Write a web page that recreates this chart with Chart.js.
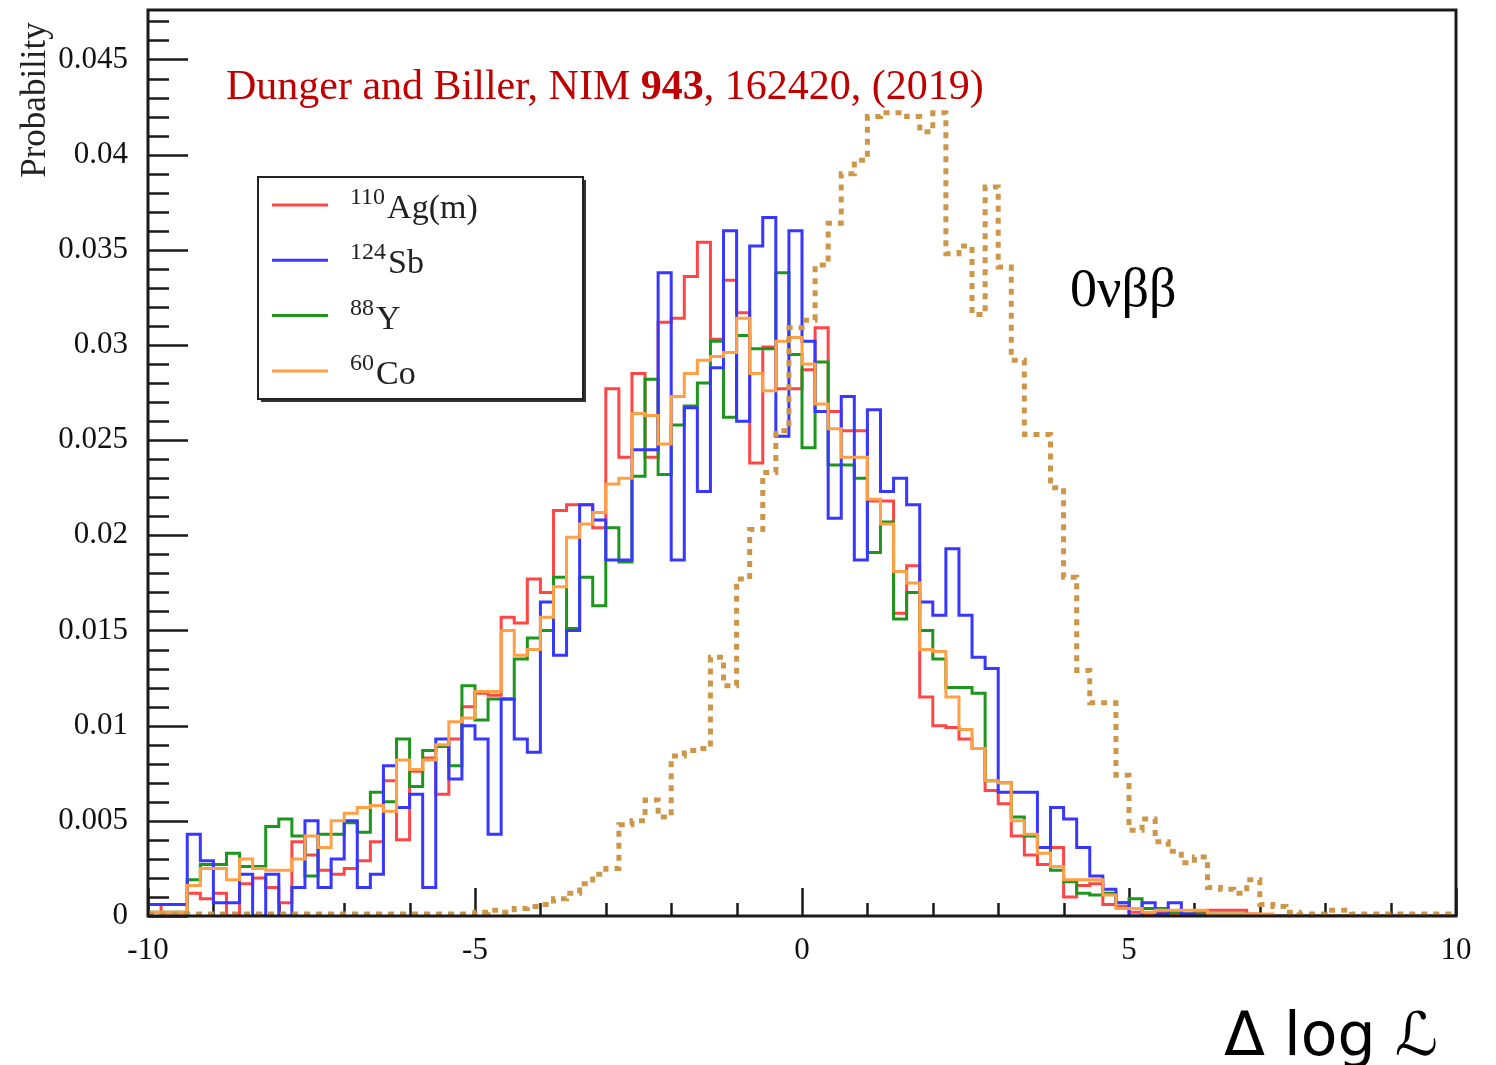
<!DOCTYPE html>
<html>
<head>
<meta charset="utf-8">
<script src="https://cdn.jsdelivr.net/npm/chart.js@4.4.1/dist/chart.umd.min.js"></script>
<style>
    body { margin: 0; background: #fff; }
    #wrap { width: 1496px; height: 1065px; }
</style>
</head>
<body>
<div id="wrap"><canvas id="hist" width="1496" height="1065"></canvas></div>
<script>
    "use strict";

    // Histogram binning: 100 bins of 0.2 between -10 and 10
    var binStart = -10;
    var binWidth = 0.2;

    // Bin contents (probability per bin)
    var agm = [
        0.0006, 0.0000, 0.0000, 0.0012, 0.0009, 0.0012, 0.0000, 0.0017, 0.0020, 0.0015,
        0.0007, 0.0039, 0.0032, 0.0024, 0.0022, 0.0025, 0.0029, 0.0039, 0.0071, 0.0040,
        0.0076, 0.0083, 0.0064, 0.0093, 0.0110, 0.0117, 0.0116, 0.0157, 0.0154, 0.0177,
        0.0170, 0.0213, 0.0216, 0.0216, 0.0204, 0.0277, 0.0241, 0.0285, 0.0241, 0.0312,
        0.0314, 0.0336, 0.0354, 0.0303, 0.0334, 0.0317, 0.0238, 0.0299, 0.0277, 0.0277,
        0.0287, 0.0309, 0.0265, 0.0255, 0.0255, 0.0218, 0.0218, 0.0159, 0.0184, 0.0115,
        0.0100, 0.0099, 0.0093, 0.0088, 0.0066, 0.0059, 0.0042, 0.0032, 0.0027, 0.0036,
        0.0010, 0.0016, 0.0017, 0.0006, 0.0005, 0.0002, 0.0001, 0.0002, 0.0001, 0.0001,
        0.0002, 0.0003, 0.0003, 0.0003, 0.0001, 0, 0, 0, 0, 0,
        0, 0, 0, 0, 0, 0, 0, 0, 0, 0
    ];
    var sb = [
        0.0006, 0.0006, 0.0006, 0.0043, 0.0029, 0.0007, 0.0007, 0.0022, 0.0000, 0.0022,
        0.0000, 0.0015, 0.0050, 0.0015, 0.0030, 0.0050, 0.0015, 0.0022, 0.0079, 0.0057,
        0.0064, 0.0015, 0.0093, 0.0072, 0.0100, 0.0093, 0.0043, 0.0114, 0.0093, 0.0086,
        0.0165, 0.0137, 0.0150, 0.0216, 0.0208, 0.0187, 0.0187, 0.0245, 0.0245, 0.0338,
        0.0187, 0.0267, 0.0223, 0.0288, 0.0360, 0.0260, 0.0352, 0.0367, 0.0252, 0.0360,
        0.0302, 0.0265, 0.0209, 0.0273, 0.0187, 0.0266, 0.0223, 0.0230, 0.0216, 0.0165,
        0.0158, 0.0193, 0.0158, 0.0136, 0.0130, 0.0065, 0.0065, 0.0065, 0.0036, 0.0057,
        0.0051, 0.0036, 0.0021, 0.0014, 0.0007, 0.0000, 0.0007, 0.0001, 0.0007, 0.0001,
        0, 0, 0, 0, 0, 0, 0, 0, 0, 0,
        0, 0, 0, 0, 0, 0, 0, 0, 0, 0
    ];
    var y88 = [
        0.0002, 0.0002, 0.0002, 0.0019, 0.0027, 0.0027, 0.0033, 0.0026, 0.0026, 0.0047,
        0.0051, 0.0042, 0.0021, 0.0043, 0.0043, 0.0049, 0.0044, 0.0065, 0.0060, 0.0093,
        0.0068, 0.0087, 0.0089, 0.0079, 0.0121, 0.0103, 0.0114, 0.0114, 0.0135, 0.0146,
        0.0150, 0.0178, 0.0151, 0.0178, 0.0163, 0.0204, 0.0186, 0.0231, 0.0282, 0.0232,
        0.0258, 0.0268, 0.0280, 0.0302, 0.0262, 0.0305, 0.0298, 0.0298, 0.0338, 0.0295,
        0.0246, 0.0291, 0.0237, 0.0237, 0.0230, 0.0191, 0.0207, 0.0156, 0.0170, 0.0150,
        0.0135, 0.0120, 0.0120, 0.0117, 0.0071, 0.0070, 0.0052, 0.0042, 0.0036, 0.0024,
        0.0018, 0.0012, 0.0011, 0.0012, 0.0007, 0.0009, 0.0004, 0.0004, 0.0002, 0.0001,
        0.0001, 0.0001, 0.0001, 0.0001, 0, 0, 0, 0, 0, 0,
        0, 0, 0, 0, 0, 0, 0, 0, 0, 0
    ];
    var co60 = [
        0.0002, 0.0002, 0.0002, 0.0016, 0.0025, 0.0025, 0.0019, 0.0030, 0.0025, 0.0024,
        0.0024, 0.0030, 0.0042, 0.0036, 0.0050, 0.0054, 0.0057, 0.0058, 0.0055, 0.0082,
        0.0077, 0.0082, 0.0090, 0.0102, 0.0104, 0.0118, 0.0118, 0.0150, 0.0137, 0.0140,
        0.0157, 0.0173, 0.0199, 0.0206, 0.0212, 0.0227, 0.0230, 0.0264, 0.0263, 0.0248,
        0.0273, 0.0285, 0.0292, 0.0294, 0.0296, 0.0314, 0.0285, 0.0276, 0.0302, 0.0304,
        0.0290, 0.0269, 0.0256, 0.0241, 0.0241, 0.0219, 0.0206, 0.0181, 0.0175, 0.0140,
        0.0139, 0.0115, 0.0098, 0.0088, 0.0071, 0.0070, 0.0050, 0.0043, 0.0033, 0.0026,
        0.0019, 0.0019, 0.0019, 0.0011, 0.0004, 0.0004, 0.0002, 0.0003, 0.0003, 0.0003,
        0.0003, 0.0001, 0.0001, 0.0001, 0.0001, 0.0001, 0, 0, 0, 0,
        0, 0, 0, 0, 0, 0, 0, 0, 0, 0
    ];
    var zeronu = [
        0.0001, 0.0001, 0.0001, 0.0001, 0.0001, 0.0001, 0.0001, 0.0001, 0.0001, 0.0001,
        0.0001, 0.0001, 0.0001, 0.0001, 0.0001, 0.0001, 0.0001, 0.0001, 0.0001, 0.0001,
        0.0001, 0.0001, 0.0001, 0.0001, 0.0001, 0.0002, 0.0003, 0.0002, 0.0004, 0.0005,
        0.0006, 0.0009, 0.0012, 0.0017, 0.0022, 0.0025, 0.0048, 0.0050, 0.0061, 0.0052,
        0.0084, 0.0087, 0.0088, 0.0136, 0.0121, 0.0177, 0.0203, 0.0233, 0.0255, 0.0309,
        0.0313, 0.0342, 0.0364, 0.0390, 0.0397, 0.0420, 0.0422, 0.0422, 0.0420, 0.0412,
        0.0422, 0.0348, 0.0352, 0.0316, 0.0383, 0.0341, 0.0292, 0.0253, 0.0253, 0.0225,
        0.0178, 0.0129, 0.0112, 0.0112, 0.0074, 0.0045, 0.0051, 0.0039, 0.0034, 0.0028,
        0.0031, 0.0015, 0.0014, 0.0012, 0.0019, 0.0006, 0.0005, 0.0002, 0.0001, 0.0001,
        0.0003, 0.0003, 0.0001, 0.0001, 0.0001, 0.0001, 0.0001, 0.0001, 0.0001, 0.0001
    ];

    // Axis tick labels
    var xTickValues = [-10, -5, 0, 5, 10];
    var xTickLabels = ["-10", "-5", "0", "5", "10"];
    var yTickValues = [0, 0.005, 0.01, 0.015, 0.02, 0.025, 0.03, 0.035, 0.04, 0.045];
    var yTickLabels = ["0", "0.005", "0.01", "0.015", "0.02", "0.025", "0.03", "0.035", "0.04", "0.045"];

    // Legend entries (mass number + element)
    var legendMass = ["110", "124", "88", "60"];
    var legendName = ["Ag(m)", "Sb", "Y", "Co"];

    var serif = "'Liberation Serif', 'DejaVu Serif', serif";

    // step points at the bin edges, last edge repeats the last bin
    function toSteps(vals) {
        var pts = vals.map(function (v, i) {
            return {x: binStart + i * binWidth, y: v};
        });
        pts.push({x: binStart + vals.length * binWidth, y: vals[vals.length - 1]});
        return pts;
    }

    function histo(label, vals, color, order) {
        return {
            label: label,
            data: toSteps(vals),
            borderColor: color,
            borderWidth: 3,
            stepped: "before",
            pointRadius: 0,
            fill: false,
            order: order
        };
    }

    var nubb = histo("0vbb", zeronu, "rgb(205,150,72)", 0);
    nubb.borderDash = [6, 6];
    nubb.borderWidth = 5;
    nubb.borderCapStyle = "butt";

    // no extra room for half labels at the axis ends
    function noPad(scale) {
        scale.paddingTop = 0;
        scale.paddingBottom = 0;
        scale.paddingLeft = 0;
        scale.paddingRight = 0;
    }

    // Frame, inner ticks, texts and legend
    var decor = {
        id: "decor",
        beforeDatasetsDraw: function (chart) {
            var ctx = chart.ctx, a = chart.chartArea;
            var xs = chart.scales.x, ys = chart.scales.y;
            ctx.save();
            ctx.strokeStyle = "#1a1a1a";
            ctx.lineWidth = 2.5;
            ctx.beginPath();
            for (var v = 0; v <= 47; v++) {
                var y = Math.round(ys.getPixelForValue(v / 1000)) + 0.5;
                var len = (v % 5 === 0) ? 40 : 21;
                ctx.moveTo(a.left, y);
                ctx.lineTo(a.left + len, y);
            }
            for (var t = -10; t <= 10; t++) {
                var x = Math.round(xs.getPixelForValue(t)) + 0.5;
                var tl = (t % 5 === 0) ? 28 : 13;
                ctx.moveTo(x, a.bottom);
                ctx.lineTo(x, a.bottom - tl);
            }
            ctx.stroke();
            ctx.restore();
        },
        afterDatasetsDraw: function (chart) {
            var ctx = chart.ctx, a = chart.chartArea;
            ctx.save();
            ctx.strokeStyle = "#1a1a1a";
            ctx.lineWidth = 3;
            ctx.strokeRect(a.left, a.top, a.right - a.left, a.bottom - a.top);
            ctx.restore();
        },
        afterDraw: function (chart) {
            var ctx = chart.ctx;
            ctx.save();

            // y title
            ctx.save();
            ctx.translate(45, 100);
            ctx.rotate(-Math.PI / 2);
            ctx.fillStyle = "#222";
            ctx.font = "35px " + serif;
            ctx.textAlign = "center";
            ctx.textBaseline = "alphabetic";
            ctx.fillText("Probability", 0, 0);
            ctx.restore();

            // reference line
            var tx = 226, ty = 99;
            ctx.fillStyle = "#c00000";
            ctx.textBaseline = "alphabetic";
            ctx.textAlign = "left";
            ctx.font = "42px " + serif;
            var p1 = "Dunger and Biller, NIM ";
            ctx.fillText(p1, tx, ty);
            tx += ctx.measureText(p1).width;
            ctx.font = "bold 42px " + serif;
            ctx.fillText("943", tx, ty);
            tx += ctx.measureText("943").width;
            ctx.font = "42px " + serif;
            ctx.fillText(", 162420, (2019)", tx, ty);

            // signal label
            ctx.fillStyle = "#000";
            ctx.font = "54px " + serif;
            ctx.fillText("0\u03bd\u03b2\u03b2", 1070, 306);

            // x title
            ctx.font = "60px 'DejaVu Sans', sans-serif";
            ctx.fillText("\u0394 log \u2112", 1224, 1055);

            // legend box with shadow
            var bx = 258, by = 177, bw = 325, bh = 222;
            ctx.fillStyle = "#333";
            ctx.fillRect(bx + 3, by + bh, bw, 3);
            ctx.fillRect(bx + bw, by + 3, 3, bh);
            ctx.fillStyle = "#fff";
            ctx.fillRect(bx, by, bw, bh);
            ctx.strokeStyle = "#222";
            ctx.lineWidth = 2;
            ctx.strokeRect(bx, by, bw, bh);

            var ds = chart.data.datasets;
            for (var i = 0; i < legendName.length; i++) {
                var ry = 205 + i * 55.3;
                ctx.strokeStyle = ds[i].borderColor;
                ctx.lineWidth = 3;
                ctx.beginPath();
                ctx.moveTo(272, ry);
                ctx.lineTo(328, ry);
                ctx.stroke();
                ctx.fillStyle = "#222";
                ctx.font = "24px " + serif;
                ctx.fillText(legendMass[i], 350, ry - 1);
                var mw = ctx.measureText(legendMass[i]).width;
                ctx.font = "34px " + serif;
                ctx.fillText(legendName[i], 352 + mw, ry + 13);
            }
            ctx.restore();
        }
    };

    var ctx1 = document.getElementById("hist").getContext("2d");
    var myChart1 = new Chart(ctx1, {
        type: "line",
        data: {
            datasets: [
                histo("110Ag(m)", agm, "rgb(255,70,70)", 4),
                histo("124Sb", sb, "rgb(55,55,255)", 2),
                histo("88Y", y88, "rgb(30,150,30)", 3),
                histo("60Co", co60, "rgb(255,160,70)", 1),
                nubb
            ]
        },
        options: {
            responsive: false,
            animation: false,
            events: [],
            layout: {padding: {left: 0, right: 40, top: 10, bottom: 0}},
            plugins: {legend: {display: false}, tooltip: {enabled: false}},
            scales: {
                x: {
                    type: "linear",
                    min: -10,
                    max: 10,
                    grid: {display: false, drawTicks: false},
                    border: {display: false},
                    afterBuildTicks: function (scale) {
                        scale.ticks = xTickValues.map(function (v) { return {value: v}; });
                    },
                    afterFit: function (scale) { scale.height = 149; noPad(scale); },
                    ticks: {
                        autoSkip: false,
                        maxRotation: 0,
                        padding: 16,
                        color: "#111",
                        font: {family: serif, size: 31},
                        callback: function (v, i) { return xTickLabels[i]; }
                    }
                },
                y: {
                    type: "linear",
                    min: 0,
                    max: 0.0476,
                    grid: {display: false, drawTicks: false},
                    border: {display: false},
                    afterBuildTicks: function (scale) {
                        scale.ticks = yTickValues.map(function (v) { return {value: v}; });
                    },
                    afterFit: function (scale) { scale.width = 148; noPad(scale); },
                    ticks: {
                        autoSkip: false,
                        padding: 20,
                        color: "#111",
                        font: {family: serif, size: 31},
                        callback: function (v, i) { return yTickLabels[i]; }
                    }
                }
            }
        },
        plugins: [decor]
    });
</script>
</body>
</html>
